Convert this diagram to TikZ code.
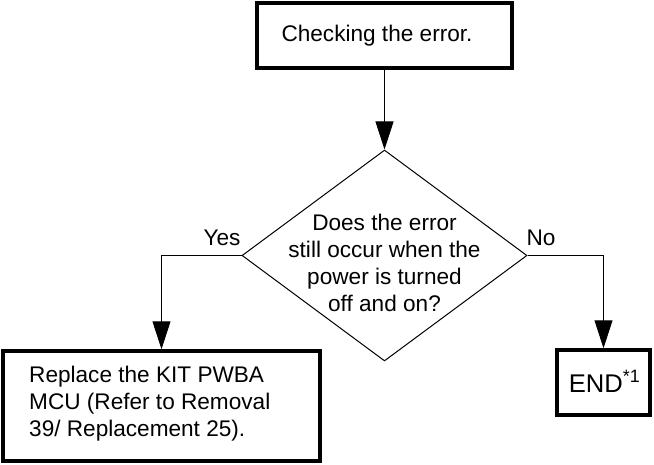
\documentclass[tikz,border=0pt]{standalone}
\usepackage{fontspec}
\setmainfont{Liberation Sans}
\usetikzlibrary{arrows.meta,shapes.geometric}
\begin{document}
\begin{tikzpicture}[x=1pt,y=-1pt,
  box/.style={draw, line width=3.5pt, inner sep=0pt, rectangle},
  thin/.style={line width=1pt},
  arr/.style={thin, -{Triangle[length=28pt,width=18pt]}},
  txt/.style={font=\fontsize{22.6}{27}\selectfont, inner sep=0pt},
]
\useasboundingbox (0,0) rectangle (654,464);

% process boxes
\node[box, minimum width=255pt, minimum height=65pt] (check) at (384.5,35.5) {};
\node[txt] at (377,35.5) {Checking the error.};

\node[box, minimum width=317pt, minimum height=110pt] (repl) at (161.5,406) {};
\node[txt, align=left, anchor=west] at (29,404) {Replace the KIT PWBA\\MCU (Refer to Removal\\39/ Replacement 25).};

\node[box, minimum width=93pt, minimum height=65pt] (endb) at (603.5,382.5) {};
\node[txt, font=\fontsize{25.6}{30}\selectfont, anchor=base] at (604.5,392) {END\textsuperscript{*1}};

% decision
\node[draw, thin, diamond, inner sep=0pt, aspect=1.35,
      minimum width=285pt, minimum height=211pt] (q) at (384.5,255.5) {};
\node[txt, align=center] at (384.5,263) {Does the error\\still occur when the\\power is turned\\off and on?};

% branch labels
\node[txt, anchor=base] (yes) at (222,245) {Yes};
\node[txt, anchor=base] (no) at (541,245) {No};

% connectors
\draw[arr] (check) -- (q);
\draw[arr] (q.west) -| (repl.north);
\draw[arr] (q.east) -| (endb.north);
\end{tikzpicture}
\end{document}
